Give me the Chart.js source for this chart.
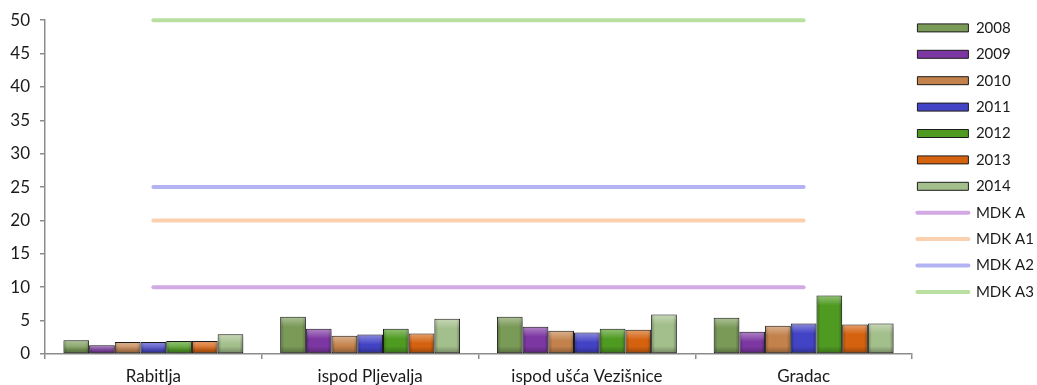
<!DOCTYPE html>
<html>
<head>
<meta charset="utf-8">
<script src="https://cdn.jsdelivr.net/npm/chart.js@4/dist/chart.umd.min.js"></script>
<style>
  html, body { margin: 0; padding: 0; background: #ffffff; }
  #wrap { width: 1037px; height: 385px; position: relative; }
</style>
</head>
<body>
<div id="wrap"><canvas id="c" width="1037" height="385"></canvas></div>
<script>
// Measuring sites
const sites = ['Rabitlja', 'ispod Pljevalja', 'ispod ušća Vezišnice', 'Gradac'];

// Yearly values per site
const y2008 = [2.05, 5.57, 5.57, 5.42];
const y2009 = [1.3, 3.77, 4.07, 3.32];
const y2010 = [1.8, 2.72, 3.47, 4.22];
const y2011 = [1.8, 2.92, 3.22, 4.57];
const y2012 = [1.95, 3.77, 3.77, 8.76];
const y2013 = [1.95, 3.07, 3.62, 4.42];
const y2014 = [2.95, 5.27, 5.91, 4.57];

// Limit values (MDK classes)
const mdkA = [10, 10, 10, 10];
const mdkA1 = [20, 20, 20, 20];
const mdkA2 = [25, 25, 25, 25];
const mdkA3 = [50, 50, 50, 50];

const yTicks = [0, 5, 10, 15, 20, 25, 30, 35, 40, 45, 50];

const FONT = 'Lato, "Open Sans", sans-serif';

function barSet(label, data, color) {
  return {
    type: 'bar', label, data,
    backgroundColor: color,
    borderColor: '#1c1c1c',
    borderWidth: 1,
    borderSkipped: false,
    categoryPercentage: 0.83,
    barPercentage: 1.0,
    order: 2
  };
}
function lineSet(label, data, color) {
  return {
    type: 'line', label, data,
    borderColor: color,
    backgroundColor: color,
    borderWidth: 4,
    borderCapStyle: 'round',
    pointRadius: 0,
    pointHoverRadius: 0,
    fill: false,
    clip: false,
    order: 1
  };
}

// Bevelled look for the bars: drop shadow plus light/dark overlays
const bevel = {
  id: 'bevel',
  beforeDatasetDraw(chart, args) {
    const ds = chart.data.datasets[args.index];
    if (ds.type !== 'bar') return;
    const ctx = chart.ctx;
    ctx.save();
    ctx.shadowColor = 'rgba(0,0,0,0.35)';
    ctx.shadowBlur = 4;
    ctx.shadowOffsetX = 1;
    ctx.shadowOffsetY = 2;
  },
  afterDatasetDraw(chart, args) {
    const ds = chart.data.datasets[args.index];
    if (ds.type !== 'bar') return;
    const ctx = chart.ctx;
    ctx.restore();
    ctx.save();
    args.meta.data.forEach(el => {
      const p = el.getProps(['x', 'y', 'base', 'width'], true);
      const l = p.x - p.width / 2 + 1, r = p.x + p.width / 2 - 1;
      const t = Math.min(p.y, p.base) + 1, b = Math.max(p.y, p.base) - 1;
      const h = b - t;
      if (h <= 0) return;
      // horizontal shading: darker edges
      let g = ctx.createLinearGradient(l, 0, r, 0);
      g.addColorStop(0, 'rgba(0,0,0,0.22)');
      g.addColorStop(0.12, 'rgba(0,0,0,0)');
      g.addColorStop(0.88, 'rgba(0,0,0,0)');
      g.addColorStop(1, 'rgba(0,0,0,0.22)');
      ctx.fillStyle = g;
      ctx.fillRect(l, t, r - l, h);
      // top highlight
      const hh = Math.min(9, h);
      g = ctx.createLinearGradient(0, t, 0, t + hh);
      g.addColorStop(0, 'rgba(255,255,255,0.35)');
      g.addColorStop(1, 'rgba(255,255,255,0)');
      ctx.fillStyle = g;
      ctx.fillRect(l, t, r - l, hh);
      // bottom darkening
      const bh = Math.min(6, h);
      g = ctx.createLinearGradient(0, b - bh, 0, b);
      g.addColorStop(0, 'rgba(0,0,0,0)');
      g.addColorStop(1, 'rgba(0,0,0,0.25)');
      ctx.fillStyle = g;
      ctx.fillRect(l, b - bh, r - l, bh);
    });
    ctx.restore();
  }
};

// Fixed legend column width, so the plot area keeps its right edge
const legendWidth = {
  id: 'legendWidth',
  afterInit(chart) {
    const lg = chart.legend;
    const fit = lg.fit;
    lg.fit = function () {
      fit.call(this);
      if (!this.isHorizontal()) this.width = 125;
    };
  },
  afterLayout(chart) {
    chart.legend.left -= 6;
    chart.legend.right = chart.width;
    chart.legend.top -= 2;
  }
};

new Chart(document.getElementById('c'), {
  data: {
    labels: sites,
    datasets: [
      barSet('2008', y2008, '#7a9a58'),
      barSet('2009', y2009, '#7d37a3'),
      barSet('2010', y2010, '#c3814b'),
      barSet('2011', y2011, '#4343c6'),
      barSet('2012', y2012, '#4f9b22'),
      barSet('2013', y2013, '#d5620f'),
      barSet('2014', y2014, '#a3bf8b'),
      lineSet('MDK A', mdkA, '#d3a9e3'),
      lineSet('MDK A1', mdkA1, '#fbd0af'),
      lineSet('MDK A2', mdkA2, '#b3b3f4'),
      lineSet('MDK A3', mdkA3, '#b9dfa1')
    ]
  },
  options: {
    responsive: false,
    animation: false,
    devicePixelRatio: 1,
    layout: { padding: { top: 11, right: 0, left: 0, bottom: 0 } },
    plugins: {
      tooltip: { enabled: false },
      legend: {
        position: 'right',
        align: 'start',
        labels: {
          font: { family: FONT, size: 15 },
          color: '#1a1a1a',
          boxWidth: 51,
          boxHeight: 8,
          padding: 11.4,
          usePointStyle: true,
          pointStyleWidth: 51,
          sort: (a, b) => a.datasetIndex - b.datasetIndex,
          generateLabels(chart) {
            const items = Chart.defaults.plugins.legend.labels.generateLabels(chart);
            items.forEach(it => {
              const ds = chart.data.datasets[it.datasetIndex];
              if (ds.type === 'bar') {
                it.pointStyle = 'rect';
                it.lineWidth = 1;
                it.strokeStyle = '#1c1c1c';
              } else {
                it.pointStyle = 'line';
                it.lineWidth = 4;
                it.lineCap = 'round';
                it.strokeStyle = ds.borderColor;
              }
            });
            return items;
          }
        }
      }
    },
    scales: {
      x: {
        offset: true,
        grid: { display: true, drawOnChartArea: false, offset: true, tickLength: 5, color: '#8c8c8c', lineWidth: 1.5 },
        border: { color: '#8c8c8c', width: 1.5 },
        ticks: { font: { family: FONT, size: 17 }, color: '#1a1a1a', padding: 7, maxRotation: 0 },
        afterFit(s) { s.height = 31; }
      },
      y: {
        min: 0, max: 50,
        afterBuildTicks(s) { s.ticks = yTicks.map(v => ({ value: v })); },
        grid: { display: true, drawOnChartArea: false, tickLength: 5, color: '#8c8c8c', lineWidth: 1.5 },
        border: { color: '#8c8c8c', width: 1.5 },
        ticks: { font: { family: FONT, size: 17 }, color: '#1a1a1a', padding: 10 },
        afterFit(s) { s.width = 45; }
      }
    }
  },
  plugins: [bevel, legendWidth]
});
</script>
</body>
</html>
